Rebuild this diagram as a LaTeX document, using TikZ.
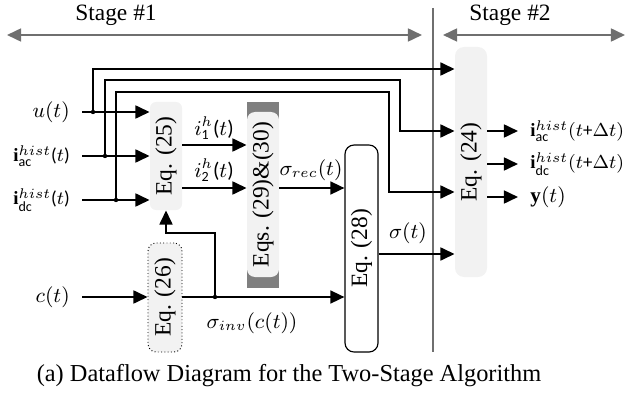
\documentclass[tikz,border=0pt]{standalone}
\usepackage{amsmath}
\usepackage{fontspec}
\setmainfont{Liberation Serif}
\setsansfont{Carlito}
\usetikzlibrary{arrows.meta}

\newcommand{\px}{0.015cm}
\definecolor{boxgray}{HTML}{F2F2F2}
\definecolor{darkbar}{HTML}{7F7F7F}
\definecolor{stagegray}{HTML}{6F6F6F}

\tikzset{
  flow/.style={line width=0.9pt, -{Triangle[length=6pt,width=5.5pt]}},
  stagearrow/.style={stagegray, line width=0.9pt,
    {Triangle[length=6pt,width=5.5pt]}-{Triangle[length=6pt,width=5.5pt]}},
  eqbox/.style={fill=boxgray, rounded corners=6*\px, inner sep=0pt},
  sig/.style={inner sep=1pt, font=\small},
  port/.style={font=\small},
  hport/.style={font=\fontsize{8}{9.5}\selectfont}
}

\begin{document}
\begin{tikzpicture}[x=\px, y=-\px]
  \useasboundingbox (0,0) rectangle (626,396);

  % stages
  \node (st1) at (116,15) {Stage \#1};
  \node (st2) at (510,15) {Stage \#2};
  \coordinate (s1a) at (7,35);
  \coordinate (s1b) at (422,35);
  \coordinate (s2a) at (443,35);
  \coordinate (s2b) at (625,35);
  \draw[stagearrow] (s1a) -- (s1b);
  \draw[stagearrow] (s2a) -- (s2b);
  \coordinate (divtop) at (433,8);
  \coordinate (divbot) at (433,352);
  \draw[stagegray, line width=0.5pt] (divtop) -- (divbot);

  % equation blocks
  \node[eqbox, minimum width=32*\px, minimum height=108*\px] (eq25) at (166,156)
    {\rotatebox{90}{Eq. (25)}};
  \fill[darkbar] (247,102) rectangle (279,288);
  \node[eqbox, rounded corners=8*\px, minimum width=32*\px, minimum height=165*\px]
    (eq29) at (263,194.5) {\rotatebox{90}{Eqs. (29)\&(30)}};
  \node[draw, fill=white, line width=0.5pt, rounded corners=9*\px, inner sep=0pt,
    minimum width=33*\px, minimum height=207*\px] (eq28) at (361.5,248.5)
    {\rotatebox{90}{Eq. (28)}};
  \node[eqbox, draw, densely dotted, rounded corners=8*\px, minimum width=34*\px,
    minimum height=109*\px] (eq26) at (165,297.5) {\rotatebox{90}{Eq. (26)}};
  \node[eqbox, rounded corners=9*\px, minimum width=32*\px, minimum height=230*\px]
    (eq24) at (471,162) {\rotatebox{90}{Eq. (24)}};

  % inputs
  \node[port, anchor=east] (inU) at (78,112) {$u(t)$};
  \node[hport, anchor=east] (inA) at (78,156) {$\mathbf{i}_{\textsf{ac}}^{hist}\textsf{(}t\textsf{)}$};
  \node[hport, anchor=east] (inD) at (78,200) {$\mathbf{i}_{\textsf{dc}}^{hist}\textsf{(}t\textsf{)}$};
  \node[port, anchor=east] (inC) at (78,297) {$c(t)$};
  \draw[flow] ([xshift=4*\px]inU.east) -- (eq25.west |- inU);
  \draw[flow] ([xshift=4*\px]inA.east) -- (eq25.west |- inA);
  \draw[flow] ([xshift=4*\px]inD.east) -- (eq25.west |- inD);
  \draw[flow] ([xshift=4*\px]inC.east) -- (eq26.west |- inC);

  % bypass wires into stage 2
  \coordinate (jU) at (93,112);
  \coordinate (jA) at (105,156);
  \coordinate (jD) at (116,200);
  \coordinate (bU) at (93,69);
  \coordinate (bA) at (400,80);
  \coordinate (bD) at (389,92);
  \coordinate (lvA) at (0,131);
  \coordinate (lvD) at (0,192);
  \draw[flow] (jU) |- (eq24.west |- bU);
  \draw[flow] (jA) |- (bA) |- (eq24.west |- lvA);
  \draw[flow] (jD) |- (bD) |- (eq24.west |- lvD);
  \foreach \j in {jU,jA,jD} \fill (\j) circle (2.2);

  % internal signals
  \coordinate (lv1) at (0,145);
  \coordinate (lv2) at (0,188);
  \draw[flow] (eq25.east |- lv1) -- (eq29.west |- lv1);
  \draw[flow] (eq25.east |- lv2) -- (eq29.west |- lv2);
  \node[sig] (i1) at (214,128) {$i_{\textsf{1}}^{h}\textsf{(}t\textsf{)}$};
  \node[sig] (i2) at (214,170) {$i_{\textsf{2}}^{h}\textsf{(}t\textsf{)}$};
  \draw[flow] (eq29.east |- lv2) -- (eq28.west |- lv2);
  \node[sig] (srec) at (311,170) {$\sigma_{rec}(t)$};

  \coordinate (jC) at (215,297);
  \coordinate (bC) at (215,233);
  \draw[flow] (eq26.east |- jC) -- (eq28.west |- jC);
  \draw[flow] (jC) -- (bC) -| (eq25.south);
  \fill (jC) circle (2.2);
  \node[sig] (sinv) at (252,323) {$\sigma_{inv}(c(t))$};

  \coordinate (lvS) at (0,254);
  \draw[flow] (eq28.east |- lvS) -- (eq24.west |- lvS);
  \node[sig] (sig) at (408,233) {$\sigma(t)$};

  % outputs
  \node[hport, anchor=west, inner sep=0pt] (outA) at (530,131)
    {$\mathbf{i}_{\textsf{ac}}^{hist}(t\textsf{+}\Delta t)$};
  \node[hport, anchor=west, inner sep=0pt] (outD) at (530,164)
    {$\mathbf{i}_{\textsf{dc}}^{hist}(t\textsf{+}\Delta t)$};
  \node[port, anchor=west, inner sep=0pt] (outY) at (530,197) {$\mathbf{y}(t)$};
  \foreach \o in {outA,outD,outY}
    \draw[flow] (eq24.east |- \o) -- ([xshift=-12*\px]\o.west);

  \node[font=\fontsize{10.4}{12}\selectfont] (cap) at (289,376)
    {(a) Dataflow Diagram for the Two-Stage Algorithm};
\end{tikzpicture}
\end{document}
